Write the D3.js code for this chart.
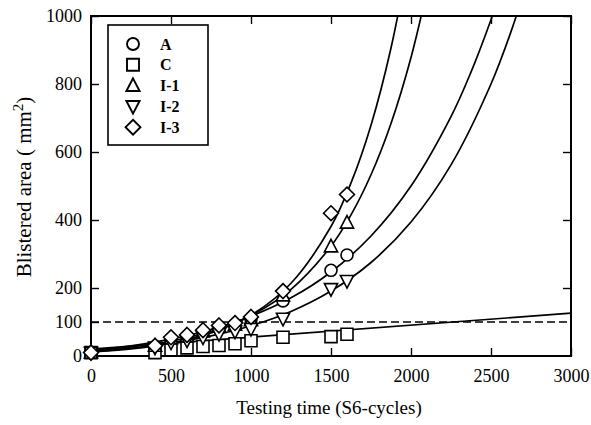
<!DOCTYPE html>
<html><head><meta charset="utf-8">
<script src="https://cdn.jsdelivr.net/npm/d3@7"></script>
<style>body{margin:0;background:#fff}svg{display:block}text{font-family:"Liberation Serif","Times New Roman",serif;fill:#000}</style>
</head><body><svg id="c" width="591" height="425"></svg>
<script>
// ---- data ----
const xTicks = [0, 500, 1000, 1500, 2000, 2500, 3000];
const yTicks = [0, 100, 200, 400, 600, 800, 1000];
const seriesNames = ["A", "C", "I-1", "I-2", "I-3"];
const seriesShapes = ["circle", "square", "triangle", "triangleDown", "diamond"];
const times = [0, 400, 500, 600, 700, 800, 900, 1000, 1200, 1500, 1600];
const valA  = [10, 28, 48, 55, 68, 82, 90, 108, 162, 252, 297];
const valC  = [10, 10, 18, 24, 28, 31, 36, 45, 55, 57, 64];
const valI1 = [10, 30, 52, 58, 72, 86, 92, 105, 178, 322, 392];
const valI2 = [10, 25, 40, 46, 55, 65, 72, 80, 110, 197, 221];
const valI3 = [10, 30, 55, 62, 76, 90, 97, 115, 191, 420, 475];
// fitted curves
const fitA_x  = [0, 250, 500, 750, 1000, 1250, 1500, 1750, 2000, 2250, 2375, 2500, 2550];
const fitA_y  = [15, 30, 50, 78, 117, 171, 247, 353, 500, 704, 835, 989, 1058];
const fitI1_x = [0, 250, 500, 750, 1000, 1250, 1500, 1625, 1750, 1875, 2000, 2125];
const fitI1_y = [16, 27, 44, 72, 119, 196, 323, 415, 533, 684, 878, 1128];
const fitI2_x = [0, 250, 500, 750, 1000, 1250, 1500, 1750, 2000, 2250, 2500, 2625, 2750];
const fitI2_y = [12, 23, 38, 59, 89, 131, 191, 275, 394, 562, 800, 954, 1137];
const fitI3_x = [0, 250, 500, 750, 1000, 1250, 1500, 1625, 1750, 1875, 2000];
const fitI3_y = [12, 21, 38, 68, 120, 214, 381, 509, 679, 906, 1208];
const fitC_x  = [0, 3000];
const fitC_y  = [20, 126];
const thresholdY = 100;

// ---- drawing ----
const svg = d3.select("#c");
const L = 91, R = 571, T = 16, B = 356;
const x = d3.scaleLinear().domain([0, 3000]).range([L, R]);
const y = d3.scaleLinear().domain([0, 1000]).range([B, T]);

svg.append("defs").append("clipPath").attr("id", "clip")
  .append("rect").attr("x", L).attr("y", T).attr("width", R - L).attr("height", B - T);

// axes
const tl = 8;
svg.append("g").attr("transform", `translate(0,${B})`)
  .call(d3.axisBottom(x).tickValues(xTicks).tickSize(-tl).tickPadding(13).tickFormat(d3.format("d")))
  .call(g => { g.select(".domain").remove(); g.selectAll("text").attr("font-size", 18); });
svg.append("g").attr("transform", `translate(0,${T})`)
  .call(d3.axisTop(x).tickValues(xTicks).tickSize(-tl).tickFormat(""))
  .call(g => g.select(".domain").remove());
svg.append("g").attr("transform", `translate(${L},0)`)
  .call(d3.axisLeft(y).tickValues(yTicks).tickSize(-tl).tickPadding(9).tickFormat(d3.format("d")))
  .call(g => { g.select(".domain").remove(); g.selectAll("text").attr("font-size", 18); });
svg.append("g").attr("transform", `translate(${R},0)`)
  .call(d3.axisRight(y).tickValues(yTicks.filter(v => v >= 200)).tickSize(-tl).tickFormat(""))
  .call(g => g.select(".domain").remove());
svg.selectAll(".tick line").attr("stroke", "#000").attr("stroke-width", 1.4);

svg.append("rect").attr("x", L).attr("y", T).attr("width", R - L).attr("height", B - T)
  .attr("fill", "none").attr("stroke", "#000").attr("stroke-width", 2);

// threshold dashed line
svg.append("line").attr("x1", x(0)).attr("x2", x(3000)).attr("y1", y(thresholdY)).attr("y2", y(thresholdY))
  .attr("stroke", "#000").attr("stroke-width", 1.5).attr("stroke-dasharray", "8,4");

// fit curves
const line = d3.line().x(d => x(d[0])).y(d => y(d[1])).curve(d3.curveCatmullRom);
const fits = [[fitA_x, fitA_y], [fitC_x, fitC_y], [fitI1_x, fitI1_y], [fitI2_x, fitI2_y], [fitI3_x, fitI3_y]];
const cg = svg.append("g").attr("clip-path", "url(#clip)");
fits.forEach(([fx, fy]) => {
  cg.append("path").datum(fx.map((v, i) => [v, fy[i]])).attr("d", line)
    .attr("fill", "none").attr("stroke", "#000").attr("stroke-width", 1.7);
});

// markers
function shapePath(shape, s) {
  switch (shape) {
    case "circle": return d3.symbol(d3.symbolCircle, s * s * Math.PI / 4)();
    case "square": return `M${-s/2},${-s/2}h${s}v${s}h${-s}Z`;
    case "triangle": return `M0,${-s*0.6}L${s*0.55},${s*0.45}L${-s*0.55},${s*0.45}Z`;
    case "triangleDown": return `M0,${s*0.6}L${s*0.55},${-s*0.45}L${-s*0.55},${-s*0.45}Z`;
    case "diamond": return `M0,${-s*0.62}L${s*0.62},0L0,${s*0.62}L${-s*0.62},0Z`;
  }
}
const vals = [valA, valC, valI1, valI2, valI3];
const mg = svg.append("g");
vals.forEach((vs, k) => {
  mg.selectAll(null).data(times.map((t, i) => [t, vs[i]])).enter().append("path")
    .attr("transform", d => `translate(${x(d[0])},${y(d[1])})`)
    .attr("d", shapePath(seriesShapes[k], 12))
    .attr("fill", "#fff").attr("stroke", "#000").attr("stroke-width", 1.6);
});

// legend
const lg = svg.append("g");
lg.append("rect").attr("x", 108).attr("y", 25).attr("width", 100).attr("height", 120)
  .attr("fill", "#fff").attr("stroke", "#000").attr("stroke-width", 1.6);
seriesNames.forEach((n, i) => {
  const yy = 44 + i * 20.8;
  lg.append("path").attr("transform", `translate(133,${yy})`).attr("d", shapePath(seriesShapes[i], 12))
    .attr("fill", "none").attr("stroke", "#000").attr("stroke-width", 1.9);
  lg.append("text").attr("x", 160).attr("y", yy + 5.5).attr("font-size", 16).attr("font-weight", "bold").text(n);
});

// titles
svg.append("text").attr("x", 329).attr("y", 414).attr("text-anchor", "middle").attr("font-size", 19)
  .text("Testing time (S6-cycles)");
const yt = svg.append("text").attr("transform", "translate(31,187) rotate(-90)").attr("text-anchor", "middle").attr("font-size", 21);
yt.append("tspan").text("Blistered area ( mm");
yt.append("tspan").attr("dy", -8).attr("font-size", 15).text("2");
yt.append("tspan").attr("dy", 8).text(")");
</script></body></html>
